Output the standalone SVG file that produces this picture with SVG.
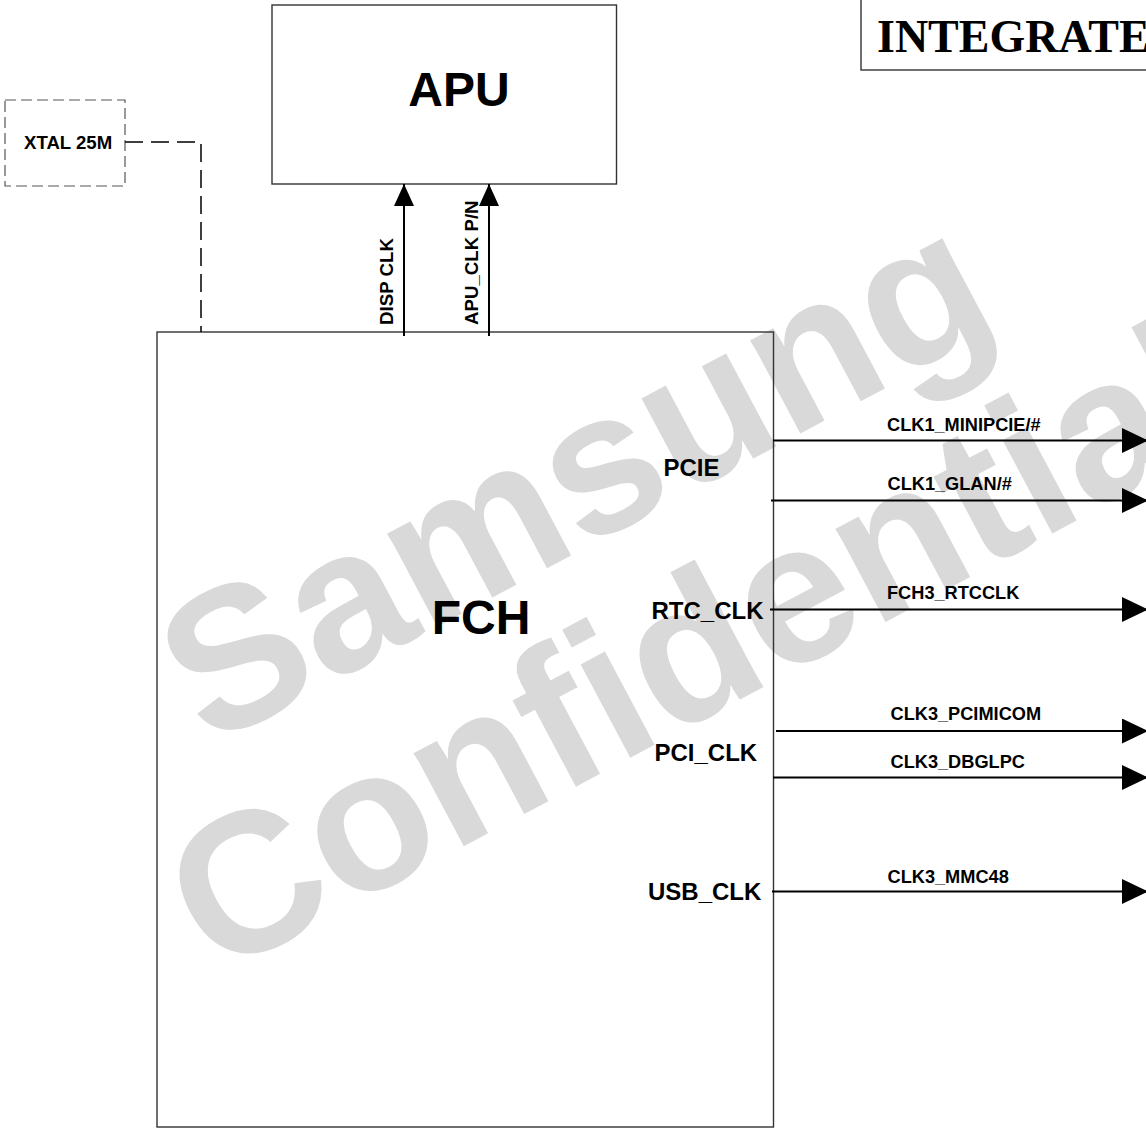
<svg xmlns="http://www.w3.org/2000/svg" width="1146" height="1128" viewBox="0 0 1146 1128">
<defs>
<style>
.box{fill:none;stroke:#333;stroke-width:1.4}
.lbl{font-family:"Liberation Sans",Arial,sans-serif;font-weight:bold;fill:#000}
.sig{font-size:18.2px}
.pin{font-size:24px}
.big{font-size:48px}
.wire{stroke:#000;stroke-width:2;fill:none}
.wm{font-family:"Liberation Sans",Arial,sans-serif;font-weight:bold;font-size:200px;fill:#d9d9d9}
</style>
<marker id="ah" viewBox="0 0 26 25" refX="26" refY="12.5" markerWidth="26" markerHeight="25" markerUnits="userSpaceOnUse" orient="auto">
<path d="M0,0 L26,12.5 L0,25 Z" fill="#000"/>
</marker>
<marker id="au" viewBox="0 0 22 20" refX="22" refY="10" markerWidth="22" markerHeight="20" markerUnits="userSpaceOnUse" orient="auto">
<path d="M0,0 L22,10 L0,20 Z" fill="#000"/>
</marker>
</defs>
<rect width="1146" height="1128" fill="#fff"/>
<g id="watermark">
<text class="wm" transform="translate(209,748) rotate(-28)">Samsung</text>
<text class="wm" transform="translate(216,978) rotate(-28)">Confidential</text>
</g>
<g id="title">
<rect x="861" y="-10" width="320" height="80" fill="#fff" stroke="#333" stroke-width="1.4"/>
<text x="877" y="52" font-family="Liberation Serif,'Times New Roman',serif" font-weight="bold" font-size="46">INTEGRATED</text>
</g>
<g id="apu">
<rect class="box" x="272" y="5" width="344.5" height="179"/>
<text class="lbl big" x="459" y="106" text-anchor="middle">APU</text>
</g>
<g id="xtal">
<rect x="5" y="100" width="120" height="86" fill="none" stroke="#555" stroke-width="1.2" stroke-dasharray="11 5"/>
<text class="lbl" x="24" y="149" font-size="18.6">XTAL 25M</text>
</g>
<g id="fch">
<rect class="box" x="157" y="332" width="616.5" height="795"/>
<text class="lbl big" x="481" y="634" text-anchor="middle">FCH</text>
<text class="lbl pin" x="663.5" y="476">PCIE</text>
<text class="lbl pin" x="651.5" y="619">RTC_CLK</text>
<text class="lbl pin" x="654.5" y="761">PCI_CLK</text>
<text class="lbl pin" x="648" y="900">USB_CLK</text>
</g>
<g id="connectors">
<polyline points="125,142 201,142 201,332" fill="none" stroke="#000" stroke-width="1.5" stroke-dasharray="18 8"/>
<line class="wire" x1="404" y1="336" x2="404" y2="184" marker-end="url(#au)"/>
<line class="wire" x1="489" y1="336" x2="489" y2="184" marker-end="url(#au)"/>
<text class="lbl" font-size="18.7" transform="translate(393,325) rotate(-90)">DISP CLK</text>
<text class="lbl" font-size="18.7" transform="translate(477.5,325) rotate(-90)">APU_CLK P/N</text>
<line class="wire" x1="773" y1="440.5" x2="1148" y2="440.5" marker-end="url(#ah)"/>
<line class="wire" x1="771" y1="500.5" x2="1148" y2="500.5" marker-end="url(#ah)"/>
<line class="wire" x1="770" y1="609.5" x2="1148" y2="609.5" marker-end="url(#ah)"/>
<line class="wire" x1="776" y1="731" x2="1148" y2="731" marker-end="url(#ah)"/>
<line class="wire" x1="773" y1="777.5" x2="1148" y2="777.5" marker-end="url(#ah)"/>
<line class="wire" x1="772" y1="891.5" x2="1148" y2="891.5" marker-end="url(#ah)"/>
<text class="lbl sig" x="887" y="430.5">CLK1_MINIPCIE/#</text>
<text class="lbl sig" x="887.5" y="490">CLK1_GLAN/#</text>
<text class="lbl sig" x="887" y="599">FCH3_RTCCLK</text>
<text class="lbl sig" x="890.5" y="719.5">CLK3_PCIMICOM</text>
<text class="lbl sig" x="890.5" y="767.5">CLK3_DBGLPC</text>
<text class="lbl sig" x="887.5" y="882.5">CLK3_MMC48</text>
</g>
</svg>
